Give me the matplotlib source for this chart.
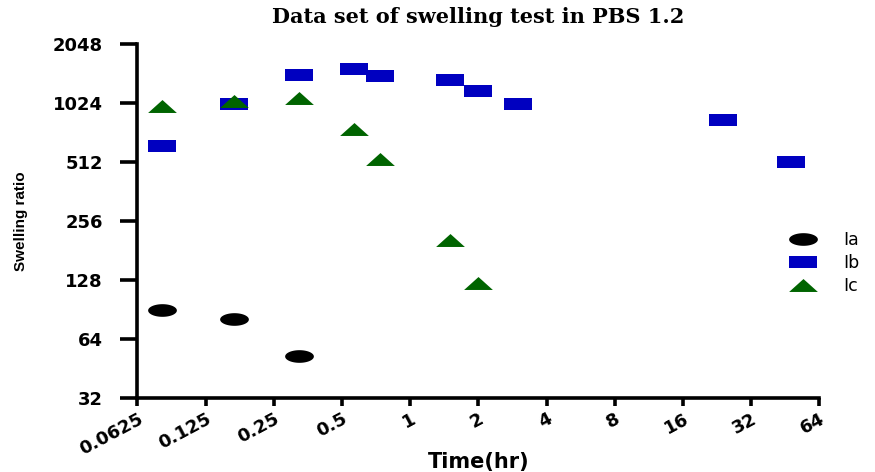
import numpy as np
import matplotlib.pyplot as plt
from matplotlib.path import Path

# Swelling ratio (time in hours)
time_ia = [0.08, 0.167, 0.323]
ratio_ia = [90.8, 80.8, 52.6]

time_ib = [0.08, 0.167, 0.323, 0.567, 0.733, 1.5, 2, 3, 24, 48]
ratio_ib = [618, 1019, 1423, 1527, 1411, 1342, 1179, 1016, 842, 515]

time_ic = [0.08, 0.167, 0.323, 0.567, 0.733, 1.5, 2]
ratio_ic = [988, 1048, 1090, 754, 530, 205, 124]

series_names = ['Ia', 'Ib', 'Ic']

x_ticks = [0.0625, 0.125, 0.25, 0.5, 1, 2, 4, 8, 16, 32, 64]
x_ticklabels = ['0.0625', '0.125', '0.25', '0.5', '1', '2', '4', '8', '16', '32', '64']
y_ticks = [32, 64, 128, 256, 512, 1024, 2048]
y_ticklabels = ['32', '64', '128', '256', '512', '1024', '2048']

# flat marker shapes (the reference is stretched sideways)
theta = np.linspace(0, 2 * np.pi, 64)
ellipse = Path(np.column_stack([np.cos(theta), 0.44 * np.sin(theta)]))
rect = Path([(-1, -0.45), (1, -0.45), (1, 0.45), (-1, 0.45), (-1, -0.45)], closed=True)
tri = Path([(-1, -0.45), (1, -0.45), (0, 0.45), (-1, -0.45)], closed=True)

fig = plt.figure(figsize=(8.75, 4.72), dpi=100)
ax = fig.add_axes([0.157, 0.1561, 0.7795, 0.75])

ms = 20.7
h1, = ax.plot(time_ia, ratio_ia, linestyle='none', marker=ellipse, ms=ms, mew=0, color='black')
h2, = ax.plot(time_ib, ratio_ib, linestyle='none', marker=rect, ms=ms, mew=0, color='#0000C0')
h3, = ax.plot(time_ic, ratio_ic, linestyle='none', marker=tri, ms=ms, mew=0, color='#006400')

ax.set_xscale('log', base=2)
ax.set_yscale('log', base=2)
ax.set_xlim(0.0625, 64)
ax.set_ylim(32, 2048)
ax.minorticks_off()
ax.set_xticks(x_ticks)
ax.set_xticklabels(x_ticklabels, rotation=28, ha='right', va='top', rotation_mode='anchor',
                   fontsize=13, fontweight='bold', family='DejaVu Sans')
ax.set_yticks(y_ticks)
ax.set_yticklabels(y_ticklabels, fontsize=13, fontweight='bold', family='DejaVu Sans')

for side in ['top', 'right']:
    ax.spines[side].set_visible(False)
for side in ['left', 'bottom']:
    ax.spines[side].set_linewidth(2.6)
ax.tick_params(axis='x', width=2.6, length=5.5, pad=3)
ax.tick_params(axis='y', width=2.6, length=12, pad=13)

fig.text(0.547, 0.963, 'Data set of swelling test in PBS 1.2', ha='center', va='center',
         fontsize=15, fontweight='bold', family='DejaVu Serif')
fig.text(0.547, 0.021, 'Time(hr)', ha='center', va='center', fontsize=15, fontweight='bold',
         family='DejaVu Sans')
fig.text(0.024, 0.532, 'Swelling ratio', ha='center', va='center', rotation=90, fontsize=11,
         fontweight='bold', family=['Liberation Sans', 'DejaVu Sans'])

fig.legend([h1, h2, h3], series_names, loc='center left', bbox_to_anchor=(0.898, 0.443),
           frameon=False, numpoints=1, fontsize=12.5, handlelength=2.0, handletextpad=1.3,
           labelspacing=0.28, borderpad=0, borderaxespad=0)

fig.savefig('out.png', dpi=100)
